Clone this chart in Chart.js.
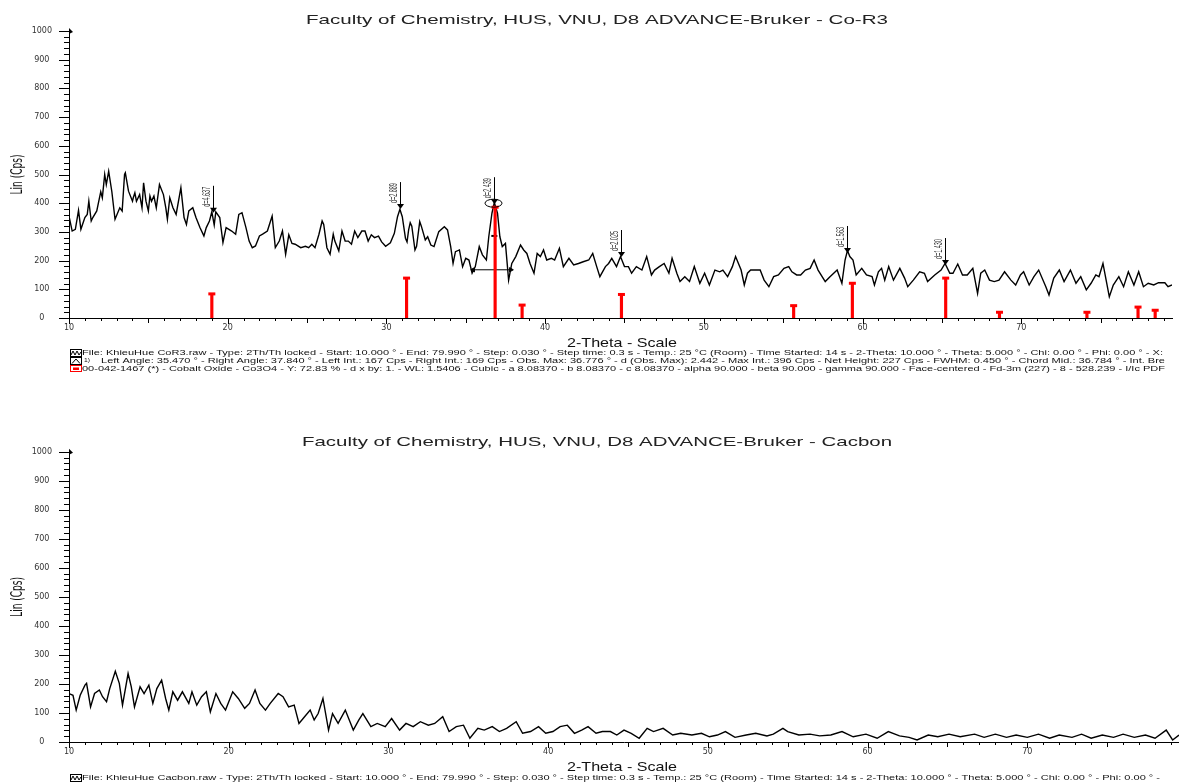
<!DOCTYPE html>
<html>
<head>
<meta charset="utf-8">
<script src="https://cdn.jsdelivr.net/npm/chart.js@4.4.0/dist/chart.umd.min.js"></script>
<style>
  body { margin: 0; background: #fff; overflow: hidden; }
  canvas { position: absolute; left: 0; }
</style>
</head>
<body>
<canvas id="coR3" width="1179" height="430" style="top:0"></canvas>
<canvas id="cacbon" width="1179" height="353" style="top:430px"></canvas>
<script>
// ---- Co-R3 scan (2-theta, Cps) ----
const coR3Theta = [10.0,10.2,10.4,10.6,10.75,11.0,11.15,11.25,11.4,11.5,11.75,12.0,12.1,12.25,12.35,12.5,12.7,12.9,13.2,13.35,13.5,13.55,13.75,14.0,14.05,14.15,14.25,14.45,14.6,14.7,14.85,15.0,15.1,15.2,15.35,15.5,15.7,15.95,16.1,16.2,16.35,16.55,16.75,17.05,17.25,17.4,17.55,17.8,18.0,18.25,18.5,18.65,18.85,19.0,19.15,19.25,19.5,19.7,19.9,20.25,20.5,20.7,20.9,21.15,21.35,21.55,21.75,22.0,22.2,22.5,22.7,22.8,23.0,23.25,23.45,23.65,23.85,24.05,24.25,24.6,24.9,25.1,25.3,25.5,25.75,25.95,26.05,26.25,26.45,26.65,26.75,27.0,27.2,27.4,27.6,27.8,28.0,28.2,28.45,28.65,28.85,29.05,29.25,29.5,29.7,29.95,30.25,30.5,30.7,30.85,31.0,31.2,31.3,31.4,31.5,31.6,31.8,31.9,32.1,32.2,32.45,32.6,32.8,33.0,33.3,33.65,33.85,34.05,34.2,34.35,34.6,34.8,35.0,35.2,35.4,35.6,35.85,36.05,36.3,36.45,36.65,36.8,37.0,37.15,37.3,37.5,37.7,37.9,38.15,38.45,38.65,38.85,39.05,39.3,39.5,39.7,39.9,40.1,40.4,40.6,40.9,41.15,41.5,41.8,42.1,42.4,42.75,43.0,43.25,43.45,43.8,44.0,44.2,44.5,44.75,45.0,45.25,45.45,45.75,46.1,46.4,46.7,46.9,47.2,47.5,47.8,48.0,48.3,48.5,48.8,49.1,49.4,49.75,50.05,50.35,50.7,51.0,51.2,51.5,51.8,52.0,52.35,52.55,52.75,52.95,53.25,53.55,53.8,54.1,54.4,54.7,55.05,55.35,55.55,55.85,56.1,56.4,56.7,56.95,57.2,57.65,57.95,58.4,58.7,58.9,59.05,59.2,59.4,59.6,59.95,60.25,60.6,60.75,61.0,61.2,61.4,61.65,61.95,62.35,62.65,62.85,63.2,63.6,63.9,64.1,64.55,64.95,65.2,65.5,65.7,66.0,66.3,66.6,66.95,67.25,67.45,67.7,68.0,68.3,68.6,68.95,69.35,69.65,69.95,70.15,70.5,70.8,71.1,71.55,71.75,72.05,72.4,72.7,73.1,73.45,73.75,74.1,74.4,74.7,74.9,75.15,75.35,75.55,75.8,76.15,76.45,76.75,77.1,77.4,77.7,78.0,78.35,78.65,79.05,79.25,79.5];
const coR3Counts = [355,303,309,375,309,350,361,407,338,350,373,440,419,500,465,511,440,344,384,373,500,506,442,407,419,436,407,430,384,471,407,373,425,407,425,384,465,430,384,344,419,384,361,454,350,326,373,384,350,315,286,315,338,370,324,370,350,263,315,303,292,361,367,315,268,245,251,286,292,303,338,355,245,268,303,222,290,260,257,245,250,245,257,245,292,338,326,245,222,292,268,234,303,268,268,257,303,280,303,303,268,290,280,285,265,250,262,295,353,379,353,278,265,307,332,320,237,250,336,320,272,283,254,249,301,318,307,249,190,231,237,179,208,202,156,179,249,220,202,283,365,402,365,283,249,260,132,190,214,254,237,225,190,156,225,214,237,202,208,202,243,179,208,185,190,196,202,225,179,144,179,190,208,179,214,179,179,156,179,167,214,150,167,179,190,156,208,156,127,144,127,179,121,156,115,167,161,167,144,179,214,167,115,156,167,167,167,132,109,144,150,173,179,161,150,150,167,173,202,167,127,144,167,121,202,235,214,202,150,173,150,144,115,161,173,132,179,132,173,139,109,132,161,156,127,150,167,190,156,156,188,150,150,173,86,156,167,132,127,132,161,132,115,150,161,115,144,167,109,80,139,167,127,167,121,144,98,121,150,144,190,132,74,115,144,109,161,115,161,109,121,115,123,123,109,115];

// ---- Co3O4 reference lines, PDF 00-042-1467 ----
const co3o4Theta = [19.0, 31.27, 36.85, 38.55, 44.81, 55.66, 59.36, 65.24, 68.63, 74.14, 77.36, 78.44];
const co3o4Counts = [84, 139, 386, 45, 82, 43, 121, 139, 20, 20, 38, 27];

// ---- peak markers ----
const peakTheta = [19.08, 30.85, 36.8, 44.75, 59.05, 65.2];
const peakCounts = [370, 383, 400, 216, 230, 188];
const peakLabels = ['d=4.637', 'd=2.889', 'd=2.439', 'd=2.025', 'd=1.563', 'd=1.430'];
const fwhmTheta = [35.47, 37.84];
const fwhmCounts = [168, 168];
const chordTheta = [36.8];
const chordCounts = [286];

// ---- Cacbon scan ----
const cacbonTheta = [10.0,10.25,10.45,10.7,11.0,11.1,11.35,11.6,11.9,12.1,12.35,12.55,12.9,13.15,13.35,13.7,13.9,14.1,14.45,14.7,15.0,15.25,15.5,15.8,16.05,16.25,16.5,16.8,17.1,17.5,17.7,18.0,18.3,18.6,18.85,19.2,19.5,19.8,20.25,20.6,21.0,21.3,21.65,21.95,22.3,22.6,23.1,23.4,23.75,24.1,24.4,24.75,25.1,25.35,25.6,25.9,26.25,26.5,26.85,27.3,27.8,28.15,28.4,28.9,29.3,29.8,30.2,30.7,31.1,31.55,32.0,32.5,32.9,33.4,33.8,34.25,34.7,35.1,35.6,36.0,36.5,36.95,37.4,38.0,38.4,38.9,39.4,39.85,40.3,40.75,41.2,41.65,42.1,42.5,43.0,43.4,43.9,44.3,44.75,45.2,45.7,46.2,46.6,47.2,47.8,48.3,49.0,49.6,50.1,50.6,51.1,51.7,52.4,53.0,53.7,54.1,54.7,55.0,55.7,56.4,57.0,57.7,58.4,59.1,59.9,60.6,61.3,62.0,62.6,63.1,63.8,64.4,65.1,65.8,66.7,67.3,68.0,68.7,69.3,70.0,70.7,71.4,72.0,72.8,73.4,74.0,74.7,75.4,76.0,76.7,77.4,78.0,78.7,79.1,79.5];
const cacbonCounts = [167,161,110,161,196,202,121,167,179,156,139,184,244,202,127,236,190,121,190,167,196,133,184,213,150,110,173,144,173,133,173,127,156,173,104,167,133,110,173,150,116,133,179,133,110,133,167,156,121,127,64,87,110,76,98,150,41,98,64,110,41,76,98,53,64,53,81,41,64,53,70,58,64,87,36,53,58,13,47,41,53,36,47,70,30,36,53,30,36,53,58,30,41,53,30,36,36,24,41,30,13,47,36,47,24,30,24,30,18,24,36,16,24,30,21,27,47,36,24,27,21,24,36,18,27,13,36,21,16,7,24,18,27,18,27,16,27,16,24,16,27,13,24,16,27,13,24,16,27,16,24,13,41,7,24];

const pairs = (xs, ys) => xs.map((x, i) => ({ x: x, y: ys[i] }));

function stretchText(ctx, text, left, cy, width, font, color) {
    ctx.save();
    ctx.font = font;
    ctx.fillStyle = color;
    ctx.textBaseline = 'middle';
    ctx.textAlign = 'left';
    const w = ctx.measureText(text).width;
    ctx.translate(left, cy);
    ctx.scale(width / w, 1);
    ctx.fillText(text, 0, 0);
    ctx.restore();
}

function drawIcon(ctx, kind, x, y) {
    ctx.save();
    ctx.lineWidth = 1;
    if (kind === 'pdf') {
        ctx.strokeStyle = '#ff0000';
        ctx.fillStyle = '#ff0000';
        ctx.strokeRect(x + 0.5, y + 0.5, 11, 6);
        ctx.fillRect(x + 3, y + 2.5, 6, 2.5);
    } else {
        ctx.strokeStyle = '#000';
        ctx.strokeRect(x + 0.5, y + 0.5, 11, 7);
        ctx.beginPath();
        if (kind === 'scan') {
            ctx.moveTo(x + 1, y + 6); ctx.lineTo(x + 3, y + 2); ctx.lineTo(x + 5, y + 6);
            ctx.lineTo(x + 7, y + 2); ctx.lineTo(x + 9, y + 6); ctx.lineTo(x + 11, y + 3);
        } else {
            ctx.moveTo(x + 2, y + 6.5); ctx.lineTo(x + 6, y + 2); ctx.lineTo(x + 10, y + 6.5);
        }
        ctx.stroke();
    }
    ctx.restore();
}

const xrdFrame = {
    id: 'xrdFrame',
    afterDraw(chart, args, opts) {
        const ctx = chart.ctx;
        const area = chart.chartArea;
        const x = chart.scales.x;
        const y = chart.scales.y;
        ctx.save();
        ctx.strokeStyle = '#000';
        ctx.fillStyle = '#000';
        ctx.lineWidth = 1;

        // ruler ticks
        ctx.beginPath();
        for (let v = 0; v <= 1000; v += 20) {
            const py = Math.round(y.getPixelForValue(v)) + 0.5;
            const len = v % 100 === 0 ? 10 : 5;
            ctx.moveTo(area.left - len, py);
            ctx.lineTo(area.left, py);
        }
        for (let t = 10; t <= 80; t++) {
            const px = Math.round(x.getPixelForValue(t)) + 0.5;
            if (px > area.right) break;
            const len = t % 10 === 0 ? 6 : (t % 5 === 0 ? 5 : 3);
            ctx.moveTo(px, area.bottom);
            ctx.lineTo(px, area.bottom + len);
        }
        ctx.stroke();
        // little arrow at the top of the y axis
        ctx.beginPath();
        ctx.moveTo(area.left, area.top - 3);
        ctx.lineTo(area.left + 4, area.top + 1);
        ctx.lineTo(area.left, area.top + 3);
        ctx.closePath();
        ctx.fill();

        // titles
        stretchText(ctx, opts.title, opts.titleLeft, opts.titleY, opts.titleWidth, '13px "Liberation Sans"', '#222');
        stretchText(ctx, '2-Theta - Scale', 567, opts.xTitleY, 110, '13px "Liberation Sans"', '#111');
        ctx.save();
        ctx.translate(18, (area.top + area.bottom) / 2);
        ctx.rotate(-Math.PI / 2);
        ctx.font = '15px "Liberation Sans Narrow", "DejaVu Sans Condensed", sans-serif';
        const lw = ctx.measureText('Lin (Cps)').width;
        ctx.scale(40 / lw, 1);
        ctx.textAlign = 'center';
        ctx.textBaseline = 'middle';
        ctx.fillStyle = '#111';
        ctx.fillText('Lin (Cps)', 0, 0);
        ctx.restore();

        // legend lines under the plot
        opts.legend.forEach(line => {
            drawIcon(ctx, line.icon, 70, line.y - 4);
            if (line.prefix) {
                stretchText(ctx, line.prefix, 84, line.y - 1, 6, '6px "Liberation Sans"', '#111');
            }
            stretchText(ctx, line.text, line.left, line.y, line.right - line.left, '8px "Liberation Sans"', '#111');
        });

        // peak markers
        if (opts.peaks) {
            peakTheta.forEach((t, i) => {
                const px = Math.round(x.getPixelForValue(t)) + 0.5;
                const tip = y.getPixelForValue(peakCounts[i]);
                const top = tip - 26;
                ctx.beginPath();
                ctx.moveTo(px, top);
                ctx.lineTo(px, tip);
                ctx.stroke();
                ctx.beginPath();
                ctx.moveTo(px - 3.5, tip - 4);
                ctx.lineTo(px + 3.5, tip - 4);
                ctx.lineTo(px, tip + 1);
                ctx.closePath();
                ctx.fill();
                ctx.save();
                ctx.translate(px - 1, top + 21);
                ctx.rotate(-Math.PI / 2);
                ctx.font = '10px "Liberation Sans"';
                const w = ctx.measureText(peakLabels[i]).width;
                ctx.scale(20 / w, 1);
                ctx.textBaseline = 'bottom';
                ctx.fillStyle = '#333';
                ctx.fillText(peakLabels[i], 0, 0);
                ctx.restore();
                if (i === 2) {
                    ctx.beginPath();
                    ctx.ellipse(px - 1, tip, 8.5, 4, 0, 0, Math.PI * 2);
                    ctx.stroke();
                }
            });
        }
        ctx.restore();
    }
};

function makeXrdChart(id, datasets, frame) {
    const canvas = document.getElementById(id);
    const tickFont = { family: 'DejaVu Sans', size: 8 };
    return new Chart(canvas, {
        type: 'scatter',
        data: { datasets: datasets },
        options: {
            responsive: false,
            animation: false,
            devicePixelRatio: 1,
            events: [],
            layout: { padding: { top: frame.top, left: 0, right: 0, bottom: 0 } },
            plugins: {
                legend: { display: false },
                title: { display: false },
                tooltip: { enabled: false },
                xrdFrame: frame,
            },
            scales: {
                x: {
                    type: 'linear',
                    min: 10,
                    max: 79.5,
                    offset: false,
                    grid: { display: false, drawTicks: false },
                    border: { display: true, color: '#000', width: 1 },
                    ticks: { font: tickFont, color: '#333', padding: 5, maxRotation: 0, callback: v => String(v) },
                    afterBuildTicks: scale => {
                        scale.ticks = [10, 20, 30, 40, 50, 60, 70].map(v => ({ value: v }));
                    },
                    afterFit: scale => { scale.height = canvas.height - frame.bottom; },
                },
                y: {
                    min: 0,
                    max: 1000,
                    grid: { display: false, drawTicks: false },
                    border: { display: true, color: '#000', width: 1 },
                    ticks: { stepSize: 100, font: tickFont, color: '#333', padding: 17, crossAlign: 'center', callback: v => String(v) },
                    afterFit: scale => { scale.width = 69; },
                },
            },
        },
        plugins: [xrdFrame],
    });
}

const coR3Chart = makeXrdChart('coR3', [
    {
        data: pairs(coR3Theta, coR3Counts),
        showLine: true, borderColor: '#000', borderWidth: 1.4, pointRadius: 0, order: 3,
    },
    {
        type: 'bar',
        data: pairs(co3o4Theta, co3o4Counts),
        backgroundColor: '#ff0000', barThickness: 2.5, order: 0,
    },
    {
        data: pairs(co3o4Theta, co3o4Counts),
        pointStyle: 'line', pointRadius: 3.5, borderWidth: 3, borderColor: '#ff0000', order: 0,
    },
    {
        data: pairs(fwhmTheta, fwhmCounts),
        showLine: true, borderColor: '#000', borderWidth: 1, backgroundColor: '#000',
        pointStyle: 'triangle', pointRadius: 2.5, pointRotation: [270, 90], order: 1,
    },
    {
        data: pairs(chordTheta, chordCounts),
        pointStyle: 'line', pointRadius: 3, borderWidth: 2, borderColor: '#000', order: 1,
    },
], {
    top: 31, bottom: 318,
    title: 'Faculty of Chemistry, HUS, VNU, D8 ADVANCE-Bruker - Co-R3',
    titleLeft: 306, titleWidth: 582, titleY: 20, xTitleY: 343,
    peaks: true,
    legend: [
        { icon: 'scan', y: 353, left: 82, right: 1163,
          text: 'File: KhieuHue CoR3.raw - Type: 2Th/Th locked - Start: 10.000 ° - End: 79.990 ° - Step: 0.030 ° - Step time: 0.3 s - Temp.: 25 °C (Room) - Time Started: 14 s - 2-Theta: 10.000 ° - Theta: 5.000 ° - Chi: 0.00 ° - Phi: 0.00 ° - X:' },
        { icon: 'peak', y: 361, left: 101, right: 1165, prefix: '1)',
          text: 'Left Angle: 35.470 ° - Right Angle: 37.840 ° - Left Int.: 167 Cps - Right Int.: 169 Cps - Obs. Max: 36.776 ° - d (Obs. Max): 2.442 - Max Int.: 396 Cps - Net Height: 227 Cps - FWHM: 0.450 ° - Chord Mid.: 36.784 ° - Int. Bre' },
        { icon: 'pdf', y: 369, left: 82, right: 1165,
          text: '00-042-1467 (*) - Cobalt Oxide - Co3O4 - Y: 72.83 % - d x by: 1. - WL: 1.5406 - Cubic - a 8.08370 - b 8.08370 - c 8.08370 - alpha 90.000 - beta 90.000 - gamma 90.000 - Face-centered - Fd-3m (227) - 8 - 528.239 - I/Ic PDF' },
    ],
});

const cacbonChart = makeXrdChart('cacbon', [
    {
        data: pairs(cacbonTheta, cacbonCounts),
        showLine: true, borderColor: '#000', borderWidth: 1.4, pointRadius: 0,
    },
], {
    top: 21, bottom: 312,
    title: 'Faculty of Chemistry, HUS, VNU, D8 ADVANCE-Bruker - Cacbon',
    titleLeft: 302, titleWidth: 590, titleY: 12, xTitleY: 337,
    peaks: false,
    legend: [
        { icon: 'scan', y: 348, left: 82, right: 1160,
          text: 'File: KhieuHue Cacbon.raw - Type: 2Th/Th locked - Start: 10.000 ° - End: 79.990 ° - Step: 0.030 ° - Step time: 0.3 s - Temp.: 25 °C (Room) - Time Started: 14 s - 2-Theta: 10.000 ° - Theta: 5.000 ° - Chi: 0.00 ° - Phi: 0.00 ° -' },
    ],
});
</script>
</body>
</html>
